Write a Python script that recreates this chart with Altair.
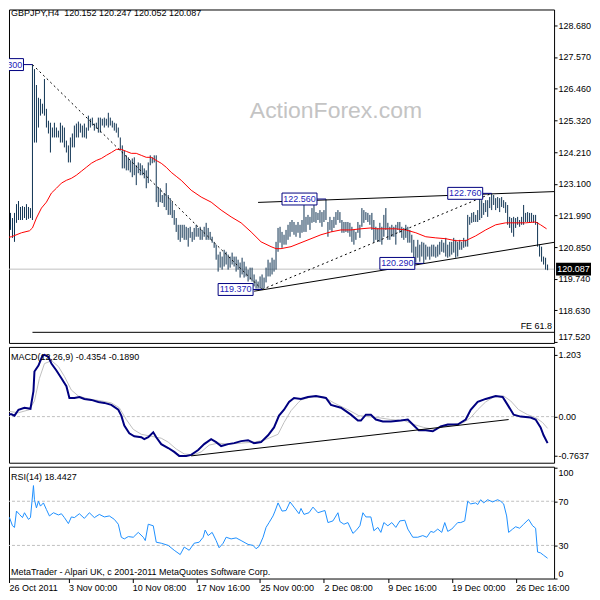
import altair as alt
import pandas as pd

# ---------------- data ----------------
symbol_title = "GBPJPY,H4\u00a0\u00a0120.152 120.247 120.052 120.087"
macd_title = "MACD(12,26,9) -0.4354 -0.1890"
rsi_title = "RSI(14) 18.4427"
footer_text = "MetaTrader - Alpari UK, c 2001-2011 MetaQuotes Software Corp."
watermark_text = "ActionForex.com"

bar_high = [121.65,121.89,121.93,122.07,121.89,122.07,122.38,122.49,122.28,122.31,
 122.28,122.38,122.28,122.24,127.30,127.14,126.58,126.13,126.09,125.92,
 126.79,125.74,125.32,125.25,125.08,125.25,125.08,124.97,125.25,125.15,
 125.08,124.62,124.45,124.73,124.87,125.15,125.22,125.29,125.22,125.15,
 125.22,125.08,125.50,125.39,125.43,125.22,125.25,125.43,125.43,125.39,
 125.43,125.39,125.60,125.43,125.32,125.25,125.22,125.08,124.73,124.45,
 124.27,124.10,124.03,123.92,123.99,124.03,123.75,123.85,123.82,123.75,
 123.64,123.57,123.85,124.10,124.03,124.10,124.10,122.98,122.94,122.70,
 122.77,123.12,122.70,122.59,122.45,122.17,121.89,121.65,121.65,121.65,
 121.65,121.58,121.54,121.58,121.40,121.54,121.65,121.54,121.58,121.47,
 121.58,121.72,121.54,121.40,121.23,121.05,120.95,120.60,120.70,120.53,
 120.77,120.70,120.60,120.53,120.67,120.53,120.53,120.42,120.32,120.49,
 120.35,120.18,120.07,120.14,120.14,119.90,119.72,119.65,119.83,119.90,
 119.79,120.14,120.42,120.32,120.49,120.42,121.05,121.54,121.58,121.40,
 121.30,121.47,121.65,121.75,121.82,121.75,121.65,121.75,121.65,121.82,
 122.45,121.93,122.00,121.93,122.24,122.42,122.10,122.07,122.17,122.10,
 122.17,122.56,121.75,121.93,121.82,121.93,122.10,122.17,122.10,121.82,
 121.75,121.75,121.75,121.72,121.58,121.47,121.40,121.75,121.65,122.24,
 122.17,122.10,122.07,122.00,122.07,121.82,121.58,121.54,121.72,121.58,
 122.00,122.24,121.72,121.58,121.65,121.58,121.65,121.75,121.75,121.58,
 121.54,121.65,121.58,121.47,121.30,121.12,120.88,121.12,120.95,121.05,
 121.02,120.95,120.88,120.88,120.95,120.95,120.88,120.95,121.05,121.12,
 121.02,121.19,120.95,121.05,121.05,121.19,121.12,121.05,121.12,121.05,
 121.19,121.12,122.00,121.93,122.07,122.10,122.00,122.17,122.63,122.52,
 122.42,122.52,122.52,122.63,122.76,122.70,122.59,122.63,122.59,122.63,
 122.52,122.45,122.35,121.93,121.89,121.93,121.89,121.93,121.82,121.93,
 122.35,122.07,122.10,122.07,122.07,122.00,122.00,121.75,120.95,120.88,
 120.53,120.49,120.25]

bar_low = [120.67,121.19,121.19,121.47,121.19,121.05,121.72,121.82,121.82,121.82,
 121.89,121.82,121.86,121.89,121.82,124.55,124.55,125.08,125.50,125.57,
 125.50,125.08,124.87,124.20,124.73,124.73,124.73,124.73,124.55,124.55,
 124.38,124.20,123.85,123.85,124.38,124.38,124.73,124.73,124.90,124.73,
 124.73,124.69,124.97,125.08,125.15,124.97,125.04,124.90,124.90,125.15,
 125.08,125.15,125.08,125.15,125.08,124.97,124.90,124.73,124.27,123.64,
 123.64,123.57,123.57,123.50,123.33,123.40,123.05,123.47,123.40,123.40,
 123.29,122.94,123.12,123.75,123.82,123.85,122.45,122.28,122.45,122.42,
 122.28,122.17,122.00,122.00,121.89,121.65,121.40,121.12,121.05,121.19,
 121.12,121.12,120.88,121.19,121.05,121.12,121.23,121.23,121.12,121.12,
 121.23,121.12,121.12,121.12,121.02,120.84,120.42,120.00,120.14,120.07,
 120.18,120.25,120.07,120.14,120.25,120.18,120.00,120.07,119.79,119.90,
 119.79,119.83,119.65,119.72,119.65,119.48,119.40,119.40,119.40,119.37,
 119.40,119.62,119.83,119.83,119.90,120.00,120.07,120.70,121.02,120.84,
 120.95,120.95,121.12,121.23,121.40,121.30,121.23,121.37,121.19,121.37,
 121.40,121.40,121.65,121.47,121.72,121.75,121.72,121.82,121.72,121.58,
 121.75,121.82,121.23,121.47,121.40,121.54,121.65,121.82,121.72,121.37,
 121.37,121.40,121.37,121.23,121.05,120.95,121.12,121.37,121.19,121.58,
 121.72,121.82,121.75,121.65,121.47,121.02,121.12,121.05,121.05,120.95,
 121.23,121.47,121.12,121.12,121.23,121.23,120.95,121.47,121.37,121.19,
 121.12,121.19,121.02,121.02,120.67,120.49,120.32,120.49,120.35,120.53,
 120.29,120.42,120.53,120.42,120.53,120.53,120.49,120.53,120.60,120.70,
 120.67,120.53,120.49,120.53,120.60,120.67,120.49,120.53,120.77,120.77,
 120.84,120.88,120.88,121.65,121.72,121.75,121.75,121.75,121.82,121.89,
 122.00,122.10,121.93,122.24,122.17,122.35,122.17,122.24,122.10,122.28,
 122.24,122.07,121.65,121.54,121.37,121.23,121.54,121.65,121.58,121.65,
 121.65,121.75,121.75,121.72,121.75,121.72,121.65,120.88,120.53,120.35,
 120.25,120.07,120.05]

ma_idx = [0,3.5,8.5,12.5,14,16,18.5,21,23.5,26,
 28.5,31,33.5,36,38.5,41,43.5,46,48.5,51,
 53.5,56,58.5,61,63.5,66,68.5,71,73.5,76,
 78.5,81,83.5,86,88.5,93.5,98.5,103.5,108.5,113.5,
 118.5,123.5,128.5,133.5,136,138.5,143.5,148.5,153.5,158.5,
 163.5,168.5,173.5,178.5,183.5,186,191,196,201,206,
 211,216,221,226,231,236,241,246,251,256,
 261,266,268.5,271.5]
ma_val = [121.19,121.23,121.37,121.44,121.54,121.89,122.24,122.45,122.77,122.94,
 123.12,123.22,123.29,123.40,123.54,123.68,123.82,123.92,123.99,124.10,
 124.20,124.31,124.31,124.24,124.17,124.17,124.10,124.03,124.03,123.92,
 123.82,123.68,123.50,123.36,123.22,122.87,122.63,122.45,122.17,121.93,
 121.72,121.40,121.05,120.88,120.81,120.81,120.88,121.02,121.16,121.30,
 121.40,121.47,121.47,121.51,121.54,121.51,121.51,121.51,121.47,121.37,
 121.23,121.19,121.16,121.09,121.09,121.26,121.47,121.65,121.72,121.72,
 121.72,121.75,121.65,121.51]

macd_idx = [0,3.5,5,7,10,13,14.5,15,17,19,
 20,22,23.5,26,28.5,31,32.5,35,37.5,40,
 43.5,47,50,53.5,57,58.5,60,62.5,65,68.5,
 70,72,74.5,76,78.5,82,85,87.5,91,93.5,
 97,100,103.5,106,108.5,112,115,118.5,122,125,
 128.5,132,135,137.5,140,142.5,145,148.5,152,156,
 161,163.5,168.5,173.5,177,178.5,181,183.5,186,189.5,
 193.5,198.5,202,205,207.5,211,214.5,218.5,222,227,
 231,233.5,237,241,246,249.5,252,255,258.5,263.5,
 266,268.5,270,272]
macd_val = [0.044,0.044,0.019,0.134,0.172,0.153,0.496,0.878,0.993,1.184,
 1.203,1.165,1.031,0.897,0.745,0.592,0.363,0.363,0.382,0.344,
 0.325,0.286,0.267,0.229,0.134,0.019,-0.172,-0.325,-0.382,-0.401,
 -0.439,-0.401,-0.306,-0.401,-0.535,-0.611,-0.687,-0.764,-0.764,-0.745,
 -0.649,-0.535,-0.439,-0.496,-0.573,-0.535,-0.516,-0.477,-0.458,-0.516,
 -0.496,-0.363,-0.210,0.019,0.134,0.286,0.363,0.344,0.382,0.401,
 0.363,0.229,0.172,0.038,-0.076,-0.076,0.038,0.038,-0.057,-0.095,
 -0.095,-0.076,-0.057,-0.172,-0.267,-0.267,-0.286,-0.191,-0.153,-0.153,
 -0.057,0.134,0.286,0.344,0.401,0.382,0.229,0.038,0.000,-0.019,
 -0.057,-0.210,-0.363,-0.516]

sig_idx = [0,7,12.5,15,17.5,20,23.5,27,30,33.5,
 37,42,48.5,53.5,57.5,61,64.5,68.5,73.5,78.5,
 82,86,90,94.5,98.5,102.5,107,112,118.5,125,
 130,133.5,137,140,143.5,147,148.5,153.5,160,165,
 172,177.5,182,187,193.5,200,205,210,215,220,
 225,230,233.5,237,241,245,250,253.5,257.5,262,
 266,269.5,272]
sig_val = [0.115,0.076,0.134,0.306,0.745,1.031,1.088,0.974,0.783,0.516,
 0.401,0.344,0.306,0.267,0.172,-0.057,-0.248,-0.344,-0.382,-0.420,
 -0.496,-0.630,-0.726,-0.745,-0.687,-0.554,-0.516,-0.535,-0.516,-0.496,
 -0.458,-0.401,-0.344,-0.115,0.115,0.267,0.325,0.382,0.382,0.267,
 0.134,0.019,0.000,-0.019,-0.057,-0.076,-0.153,-0.210,-0.248,-0.191,
 -0.153,-0.115,-0.019,0.134,0.286,0.382,0.401,0.306,0.134,0.038,
 -0.019,-0.115,-0.229]

rsi_idx = [0,1.5,2.5,4,5,6,7.5,9,10,12,
 13,14.5,15,16,17,18,19.5,21,22.5,24.5,
 27,28.5,30,32,33.5,35,37.5,40,42.5,45,
 47.5,50,52.5,55,57,58.5,60,62,64.5,67,
 69.5,70.5,72,74.5,76,78.5,82,85,88,90,
 92.5,95,97.5,99.5,100.5,102,104,106,107.5,109.5,
 111,113.5,116,118.5,122,124.5,126,127.5,129.5,131,
 132.5,134.5,135.5,137,139,141,143,145,147.5,148.5,
 150,152.5,154.5,157,159.5,160.5,162,164.5,167,168,
 170,172,174.5,176,178,179.5,181,183.5,185,187,
 188.5,190,192,194,196,198,200.5,202,204.5,207,
 209.5,211.5,213.5,215,217,219,220.5,222,224,225.5,
 227,228.5,230.5,232,233.5,236,237,238.5,240,242,
 244.5,247,248.5,250,251.5,252.5,254.5,256,258,260,
 262.5,264.5,266,267,268.5,270,272]
rsi_val = [44.8,53.6,55.2,47.8,46.3,61.1,58.1,55.2,59.6,53.6,
 55.2,84.2,71.4,64.0,70.0,65.6,68.5,62.5,56.7,59.6,
 57.6,58.7,55.2,49.8,55.8,55.2,58.7,54.5,59.6,55.2,
 58.1,55.8,56.7,53.6,49.2,37.4,35.9,38.0,37.4,41.8,
 37.4,34.4,49.2,47.8,32.9,32.0,30.0,25.6,21.7,28.5,
 25.6,32.0,32.9,37.4,43.9,38.9,41.8,34.4,27.9,32.0,
 37.4,35.9,36.8,34.4,30.9,30.0,27.0,29.1,37.4,46.3,
 50.7,56.7,61.1,68.5,61.1,61.6,69.4,64.7,58.7,63.5,
 58.1,59.6,64.7,59.6,61.1,61.6,50.7,52.2,59.6,51.6,
 49.2,50.7,40.9,43.3,47.8,59.6,55.8,55.8,43.3,46.3,
 41.8,50.7,47.8,50.7,46.3,52.2,52.8,44.8,37.4,37.4,
 38.9,37.4,42.7,41.8,44.8,41.8,50.7,42.7,44.8,47.8,
 50.7,50.7,52.2,70.0,67.6,68.5,67.0,71.4,68.5,71.4,
 69.4,71.4,70.0,67.6,56.7,41.8,44.8,46.9,45.6,49.2,
 53.6,47.8,45.6,24.0,23.2,21.1,18.4]

pivot_idx = [14, 129, 244]
pivot_price = [127.300, 119.370, 122.760]
label_idx = [14, 129, 161, 210, 244]
label_price = [127.300, 119.370, 122.560, 120.290, 122.760]
upper_tl_idx = [127, 278.5]
upper_tl_price = [122.44, 122.83]
lower_tl_idx = [125, 278.5]
lower_tl_price = [119.31, 121.07]
macd_tl_idx = [93.5, 252.5]
macd_tl_val = [-0.764, -0.057]
last_price = 120.087
fe_idx = 14
fe_level = 117.86
fe_text = "FE 61.8"
watermark_idx = 166
watermark_price = 125.67

price_ticks = [117.52,118.63,119.74,120.85,121.99,123.10,124.21,125.32,126.46,127.57,128.68]
macd_ticks = [1.203, 0.0, -0.7637]
rsi_ticks = [0, 30, 70, 100]
rsi_levels = [70, 30]
time_tick_idx = [0, 32, 64, 96, 128, 160, 192, 224, 256]
time_tick_labels = ["26 Oct 2011", "3 Nov 00:00", "10 Nov 08:00", "17 Nov 16:00",
                    "25 Nov 00:00", "2 Dec 08:00", "9 Dec 16:00", "19 Dec 00:00",
                    "26 Dec 16:00"]

# ---------------- layout / style ----------------
W = 546
H_MAIN, H_MACD, H_RSI = 334, 116, 112
X_MIN = 2.25
X_MAX = X_MIN + W / 2.0
FONT = "Liberation Sans"
FS = 9
BAR_COLOR = "#0f3352"
NAVY = "#000080"
LABEL_TXT = "#2323b8"
GRAY = "#c0c0c0"

xs = alt.Scale(domain=[X_MIN, X_MAX], nice=False, zero=False)
ys_main = alt.Scale(domain=[117.486, 129.242], nice=False, zero=False)
ys_macd = alt.Scale(domain=[-0.897, 1.356], nice=False, zero=False)
ys_rsi = alt.Scale(domain=[0, 101.3], nice=False, zero=False)

main_axis = alt.Axis(orient="right", values=price_ticks, format=".3f", tickSize=3,
                     labelPadding=1, labelFlush=4, labelOverlap=False,
                     labelBound=False, title="")
macd_axis = alt.Axis(orient="right", values=macd_ticks, tickSize=3, labelPadding=1,
                     labelExpr="datum.value == 0 ? '0.00' : toString(datum.value)",
                     labelFlush=False, labelOverlap=False, labelBound=False, title="")
rsi_axis = alt.Axis(orient="right", values=rsi_ticks, tickSize=3, labelPadding=1,
                    labelFlush=3, labelOverlap=False, labelBound=False, title="",
                    format="d")


def X(field):
    return alt.X(field, type="quantitative", scale=xs, axis=None)


def Ym(field):
    return alt.Y(field, type="quantitative", scale=ys_main, axis=main_axis)


def Yd(field):
    return alt.Y(field, type="quantitative", scale=ys_macd, axis=macd_axis)


def Yr(field):
    return alt.Y(field, type="quantitative", scale=ys_rsi, axis=rsi_axis)


bars_df = pd.DataFrame({"i": list(range(len(bar_high))), "high": bar_high, "low": bar_low})
ma_df = pd.DataFrame({"i": ma_idx, "p": ma_val})
last_df = pd.DataFrame({"p": [last_price]})

piv_rows = []
for s in range(len(pivot_idx) - 1):
    piv_rows.append({"seg": s, "i": pivot_idx[s], "p": pivot_price[s]})
    piv_rows.append({"seg": s, "i": pivot_idx[s + 1], "p": pivot_price[s + 1]})
piv_df = pd.DataFrame(piv_rows)

tl_rows = []
for s, (ii, pp) in enumerate([(upper_tl_idx, upper_tl_price), (lower_tl_idx, lower_tl_price)]):
    for a, b in zip(ii, pp):
        tl_rows.append({"seg": s, "i": a, "p": b})
tl_df = pd.DataFrame(tl_rows)

lab_df = pd.DataFrame({"idx": label_idx, "price": label_price})
fe_df = pd.DataFrame({"i": [fe_idx], "i2": [X_MAX], "p": [fe_level], "t": [fe_text]})

gray_line = alt.Chart(last_df).mark_rule(color=GRAY, strokeWidth=1).encode(y=Ym("p"))
bars = alt.Chart(bars_df).mark_rule(color=BAR_COLOR, strokeWidth=1, clip=True).encode(
    x=X("i"), y=Ym("low"), y2="high")
ma_line = alt.Chart(ma_df).mark_line(color="#ff0000", strokeWidth=1, clip=True).encode(
    x=X("i"), y=Ym("p"))
fe_dash = alt.Chart(piv_df).mark_line(color="black", strokeWidth=1, strokeDash=[2, 3],
                                      clip=True).encode(x=X("i"), y=Ym("p"), detail="seg:N")
trend = alt.Chart(tl_df).mark_line(color="black", strokeWidth=1, clip=True).encode(
    x=X("i"), y=Ym("p"), detail="seg:N")
fe_rule = alt.Chart(fe_df).mark_rule(color="black", strokeWidth=1, clip=True).encode(
    x=X("i"), x2="i2", y=Ym("p"))
fe_label = alt.Chart(fe_df).mark_text(align="right", baseline="bottom", dx=-2, dy=-1,
                                      font=FONT, fontSize=FS, color="black").encode(
    x=X("i2"), y=Ym("p"), text="t:N")

lab_base = alt.Chart(lab_df).transform_calculate(
    left="datum.idx - 22", right="datum.idx - 4.5", mid="datum.idx - 13.25",
    top="datum.price + 0.21", bot="datum.price - 0.21")
lab_conn = lab_base.mark_rule(color=NAVY, strokeWidth=1, clip=True).encode(
    x=X("right"), x2="idx", y=Ym("price"))
lab_box = lab_base.mark_rect(fill="white", stroke=NAVY, strokeWidth=1, clip=True).encode(
    x=X("left"), x2="right", y=Ym("bot"), y2="top")
lab_txt = lab_base.mark_text(font=FONT, fontSize=FS, color=LABEL_TXT, clip=True).encode(
    x=X("mid"), y=Ym("price"), text=alt.Text("price:Q", format=".3f"))

wm = alt.Chart(pd.DataFrame({"i": [watermark_idx], "p": [watermark_price],
                             "t": [watermark_text]})).mark_text(
    font=FONT, fontSize=23, color="#c4c4c4").encode(x=X("i"), y=Ym("p"), text="t:N")

title_main = alt.Chart(pd.DataFrame({"t": [symbol_title]})).mark_text(
    align="left", baseline="top", font=FONT, fontSize=FS, color="black").encode(
    x=alt.value(2), y=alt.value(0), text="t:N")

price_box = alt.Chart(last_df).transform_calculate(
    top="datum.p + 0.2275", bot="datum.p - 0.2275").mark_rect(color="black").encode(
    x=alt.value(W + 2), x2=alt.value(W + 37), y=Ym("bot"), y2="top")
price_txt = alt.Chart(last_df).mark_text(font=FONT, fontSize=FS, color="white",
                                         align="center").encode(
    x=alt.value(W + 19.5), y=Ym("p"), text=alt.Text("p:Q", format=".3f"))

main = alt.layer(gray_line, bars, ma_line, fe_dash, trend, fe_rule, fe_label,
                 lab_conn, lab_box, lab_txt, wm, title_main, price_box, price_txt
                 ).properties(width=W, height=H_MAIN)

# ---------------- MACD panel ----------------
zero_rule = alt.Chart(pd.DataFrame({"v": [0.0]})).mark_rule(
    color=GRAY, strokeWidth=1, strokeDash=[3, 2]).encode(y=Yd("v"))
sig_line = alt.Chart(pd.DataFrame({"i": sig_idx, "v": sig_val})).mark_line(
    color=GRAY, strokeWidth=1, clip=True).encode(x=X("i"), y=Yd("v"))
macd_line = alt.Chart(pd.DataFrame({"i": macd_idx, "v": macd_val})).mark_line(
    color=NAVY, strokeWidth=2, clip=True).encode(x=X("i"), y=Yd("v"))
macd_tl = alt.Chart(pd.DataFrame({"i": macd_tl_idx, "v": macd_tl_val})).mark_line(
    color="black", strokeWidth=1, clip=True).encode(x=X("i"), y=Yd("v"))
macd_lbl = alt.Chart(pd.DataFrame({"t": [macd_title]})).mark_text(
    align="left", baseline="middle", font=FONT, fontSize=FS, color="black").encode(
    x=alt.value(2), y=alt.value(10), text="t:N")

macd = alt.layer(zero_rule, sig_line, macd_line, macd_tl, macd_lbl).properties(
    width=W, height=H_MACD)

# ---------------- RSI panel ----------------
tick_vals = [max(t, X_MIN) for t in time_tick_idx]
lab_expr = "''"
for v, lab in reversed(list(zip(tick_vals, time_tick_labels))):
    lab_expr = f"(datum.value == {v} ? '{lab}' : {lab_expr})"

x_axis = alt.Axis(orient="bottom", values=tick_vals, labelExpr=lab_expr, tickSize=4,
                  labelAlign="left", labelBaseline="top", labelPadding=1,
                  labelFlush=False, labelOverlap=False, labelBound=False, title="")

lvl = alt.Chart(pd.DataFrame({"v": rsi_levels})).mark_rule(
    color=GRAY, strokeWidth=1, strokeDash=[3, 2]).encode(y=Yr("v"))
rsi_line = alt.Chart(pd.DataFrame({"i": rsi_idx, "v": rsi_val})).mark_line(
    color="#1e90ff", strokeWidth=1, clip=True).encode(
    x=alt.X("i", type="quantitative", scale=xs, axis=x_axis), y=Yr("v"))
rsi_lbl = alt.Chart(pd.DataFrame({"t": [rsi_title]})).mark_text(
    align="left", baseline="middle", font=FONT, fontSize=FS, color="black").encode(
    x=alt.value(2), y=alt.value(10), text="t:N")
foot = alt.Chart(pd.DataFrame({"t": [footer_text]})).mark_text(
    align="left", baseline="middle", font=FONT, fontSize=FS, color="black").encode(
    x=alt.value(2), y=alt.value(H_RSI - 7), text="t:N")

rsi = alt.layer(lvl, rsi_line, rsi_lbl, foot).properties(width=W, height=H_RSI)

chart = alt.vconcat(main, macd, rsi, spacing=2).resolve_scale(
    y="independent").properties(padding=0, background="white").configure_view(
    stroke="black", strokeWidth=1).configure_axis(
    labelFont=FONT, labelFontSize=FS, labelColor="black", tickColor="black",
    tickWidth=1, domain=False, grid=False)

chart.save("out.html", embed_options={"renderer": "svg", "actions": False})
